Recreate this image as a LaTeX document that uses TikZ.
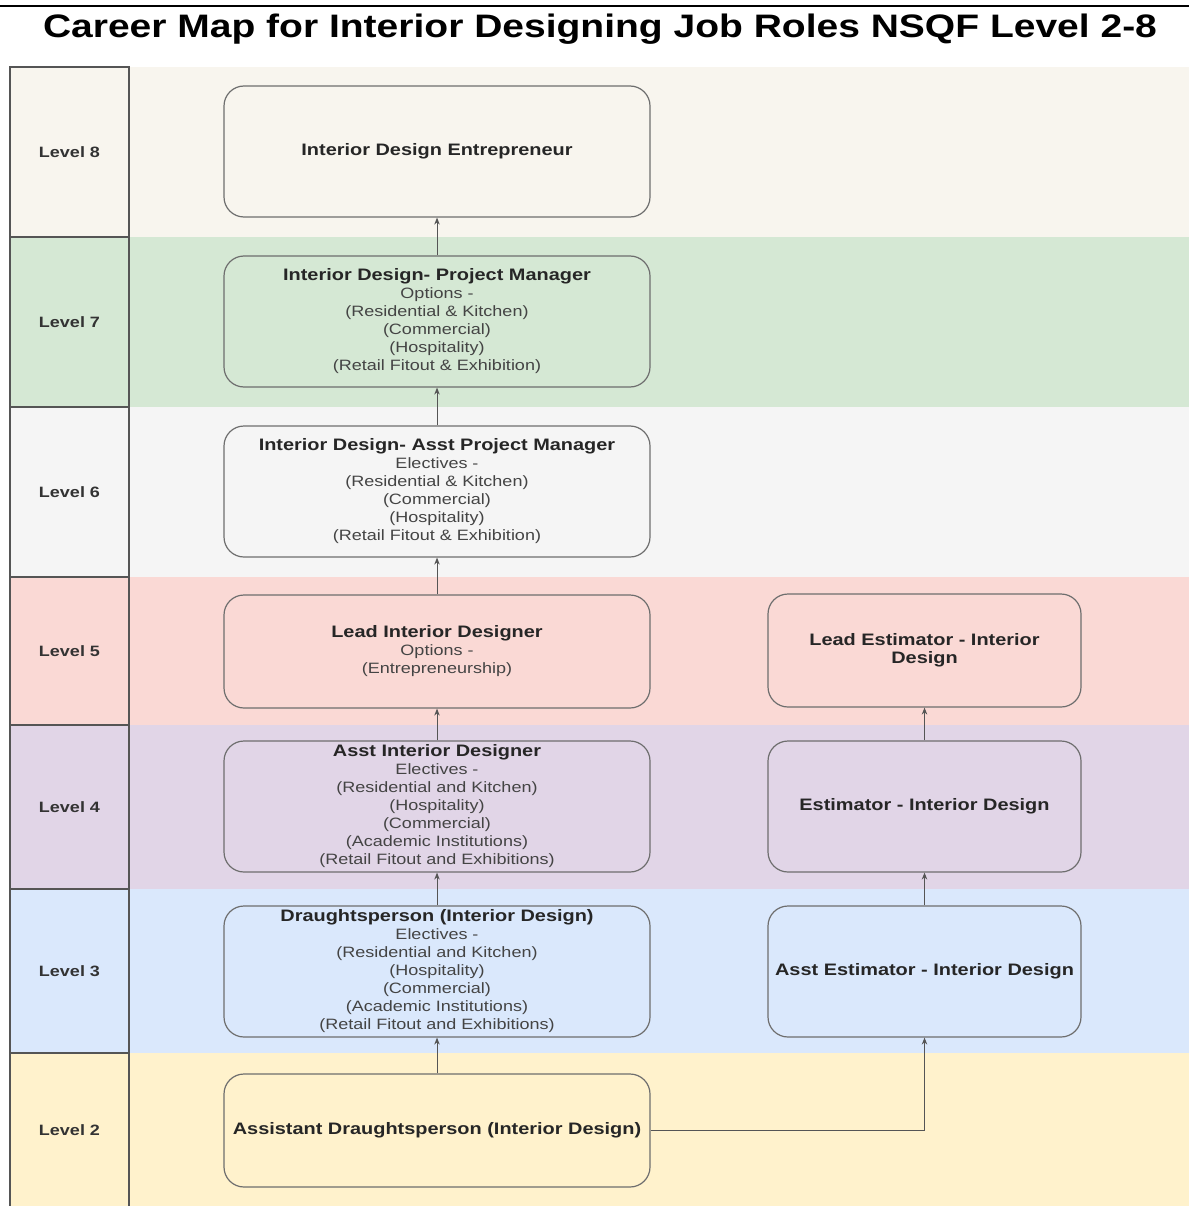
\documentclass[tikz,border=0pt]{standalone}
\usepackage{fontspec}
\setmainfont{Liberation Sans}[FakeStretch=1.2]
\usepackage{xcolor}
\usetikzlibrary{arrows.meta,positioning}

\definecolor{lvleight}{HTML}{F8F5EE}
\definecolor{lvlseven}{HTML}{D5E8D4}
\definecolor{lvlsix}{HTML}{F5F5F5}
\definecolor{lvlfive}{HTML}{FAD9D5}
\definecolor{lvlfour}{HTML}{E1D5E7}
\definecolor{lvlthree}{HTML}{DAE8FC}
\definecolor{lvltwo}{HTML}{FFF2CC}
\definecolor{boxline}{HTML}{6E6E6E}
\definecolor{colline}{HTML}{555555}
\definecolor{itemgray}{HTML}{444444}

\newcommand{\roletitle}[1]{{\color{black!85}\bfseries\fontsize{16.6}{20}\selectfont #1}}

\begin{document}
\begin{tikzpicture}[
    x=1pt, y=-1pt,
    lvl/.style={rectangle, draw=colline, line width=1.6pt, minimum width=119pt, align=center, font=\bfseries\fontsize{15}{17}\selectfont, text=black!80},
    role/.style={rectangle, draw=boxline, line width=1.2pt, rounded corners=20pt, minimum width=426pt, minimum height=131pt, align=center, font=\fontsize{15}{18}\selectfont, text=itemgray},
    est/.style={role, minimum width=313pt},
    arrow/.style={-{Stealth[length=7pt,width=5.5pt]}, line width=1pt, draw=colline}
]
\useasboundingbox (0,0) rectangle (1189,1206);

% title
\draw[line width=1.2pt] (0,6) -- (1189,6);
\node[font=\bfseries\fontsize{32.5}{40}\selectfont] (title) at (600,29) {Career Map for Interior Designing Job Roles NSQF Level 2-8};

% level bands
\fill[lvleight] (129,67) rectangle (1189,237);
\fill[lvlseven] (129,237) rectangle (1189,407);
\fill[lvlsix] (129,407) rectangle (1189,577);
\fill[lvlfive] (129,577) rectangle (1189,725);
\fill[lvlfour] (129,725) rectangle (1189,889);
\fill[lvlthree] (129,889) rectangle (1189,1053);
\fill[lvltwo] (129,1053) rectangle (1189,1206);

\node[lvl, fill=lvleight, minimum height=170pt] (lv8) at (69.5,152) {Level 8};
\node[lvl, fill=lvlseven, minimum height=170pt] (lv7) at (69.5,322) {Level 7};
\node[lvl, fill=lvlsix, minimum height=170pt] (lv6) at (69.5,492) {Level 6};
\node[lvl, fill=lvlfive, minimum height=148pt] (lv5) at (69.5,651) {Level 5};
\node[lvl, fill=lvlfour, minimum height=164pt] (lv4) at (69.5,807) {Level 4};
\node[lvl, fill=lvlthree, minimum height=164pt] (lv3) at (69.5,971) {Level 3};
\node[lvl, fill=lvltwo, minimum height=155pt] (lv2) at (69.5,1130.5) {Level 2};

% designer track
\node[role, fill=lvleight] (entre) at (437,151.5) {\roletitle{Interior Design Entrepreneur}};
\node[role, fill=lvlseven] (pm) at (437,321.5) {\roletitle{Interior Design- Project Manager}\\Options -\\(Residential \& Kitchen)\\(Commercial)\\(Hospitality)\\(Retail Fitout \& Exhibition)};
\node[role, fill=lvlsix] (apm) at (437,491.5) {\roletitle{Interior Design- Asst Project Manager}\\Electives -\\(Residential \& Kitchen)\\(Commercial)\\(Hospitality)\\(Retail Fitout \& Exhibition)};
\node[role, fill=lvlfive, minimum height=113pt] (lead) at (437,651.5) {\roletitle{Lead Interior Designer}\\Options -\\(Entrepreneurship)};
\node[role, fill=lvlfour] (asst) at (437,806.5) {\roletitle{Asst Interior Designer}\\Electives -\\(Residential and Kitchen)\\(Hospitality)\\(Commercial)\\(Academic Institutions)\\(Retail Fitout and Exhibitions)};
\node[role, fill=lvlthree] (draught) at (437,971.5) {\roletitle{Draughtsperson (Interior Design)}\\Electives -\\(Residential and Kitchen)\\(Hospitality)\\(Commercial)\\(Academic Institutions)\\(Retail Fitout and Exhibitions)};
\node[role, fill=lvltwo, minimum height=113pt] (adraught) at (437,1130.5) {\roletitle{Assistant Draughtsperson (Interior Design)}};

% estimator track
\node[est, fill=lvlfive, minimum height=113pt] (leadest) at (924.5,650.5) {\roletitle{Lead Estimator - Interior}\\\roletitle{Design}};
\node[est, fill=lvlfour] (estim) at (924.5,806.5) {\roletitle{Estimator - Interior Design}};
\node[est, fill=lvlthree] (asstest) at (924.5,971.5) {\roletitle{Asst Estimator - Interior Design}};

\draw[arrow] (adraught) -- (draught);
\draw[arrow] (draught) -- (asst);
\draw[arrow] (asst) -- (lead);
\draw[arrow] (lead) -- (apm);
\draw[arrow] (apm) -- (pm);
\draw[arrow] (pm) -- (entre);
\draw[arrow] (adraught.east) -| (asstest.south);
\draw[arrow] (asstest) -- (estim);
\draw[arrow] (estim) -- (leadest);
\end{tikzpicture}
\end{document}
